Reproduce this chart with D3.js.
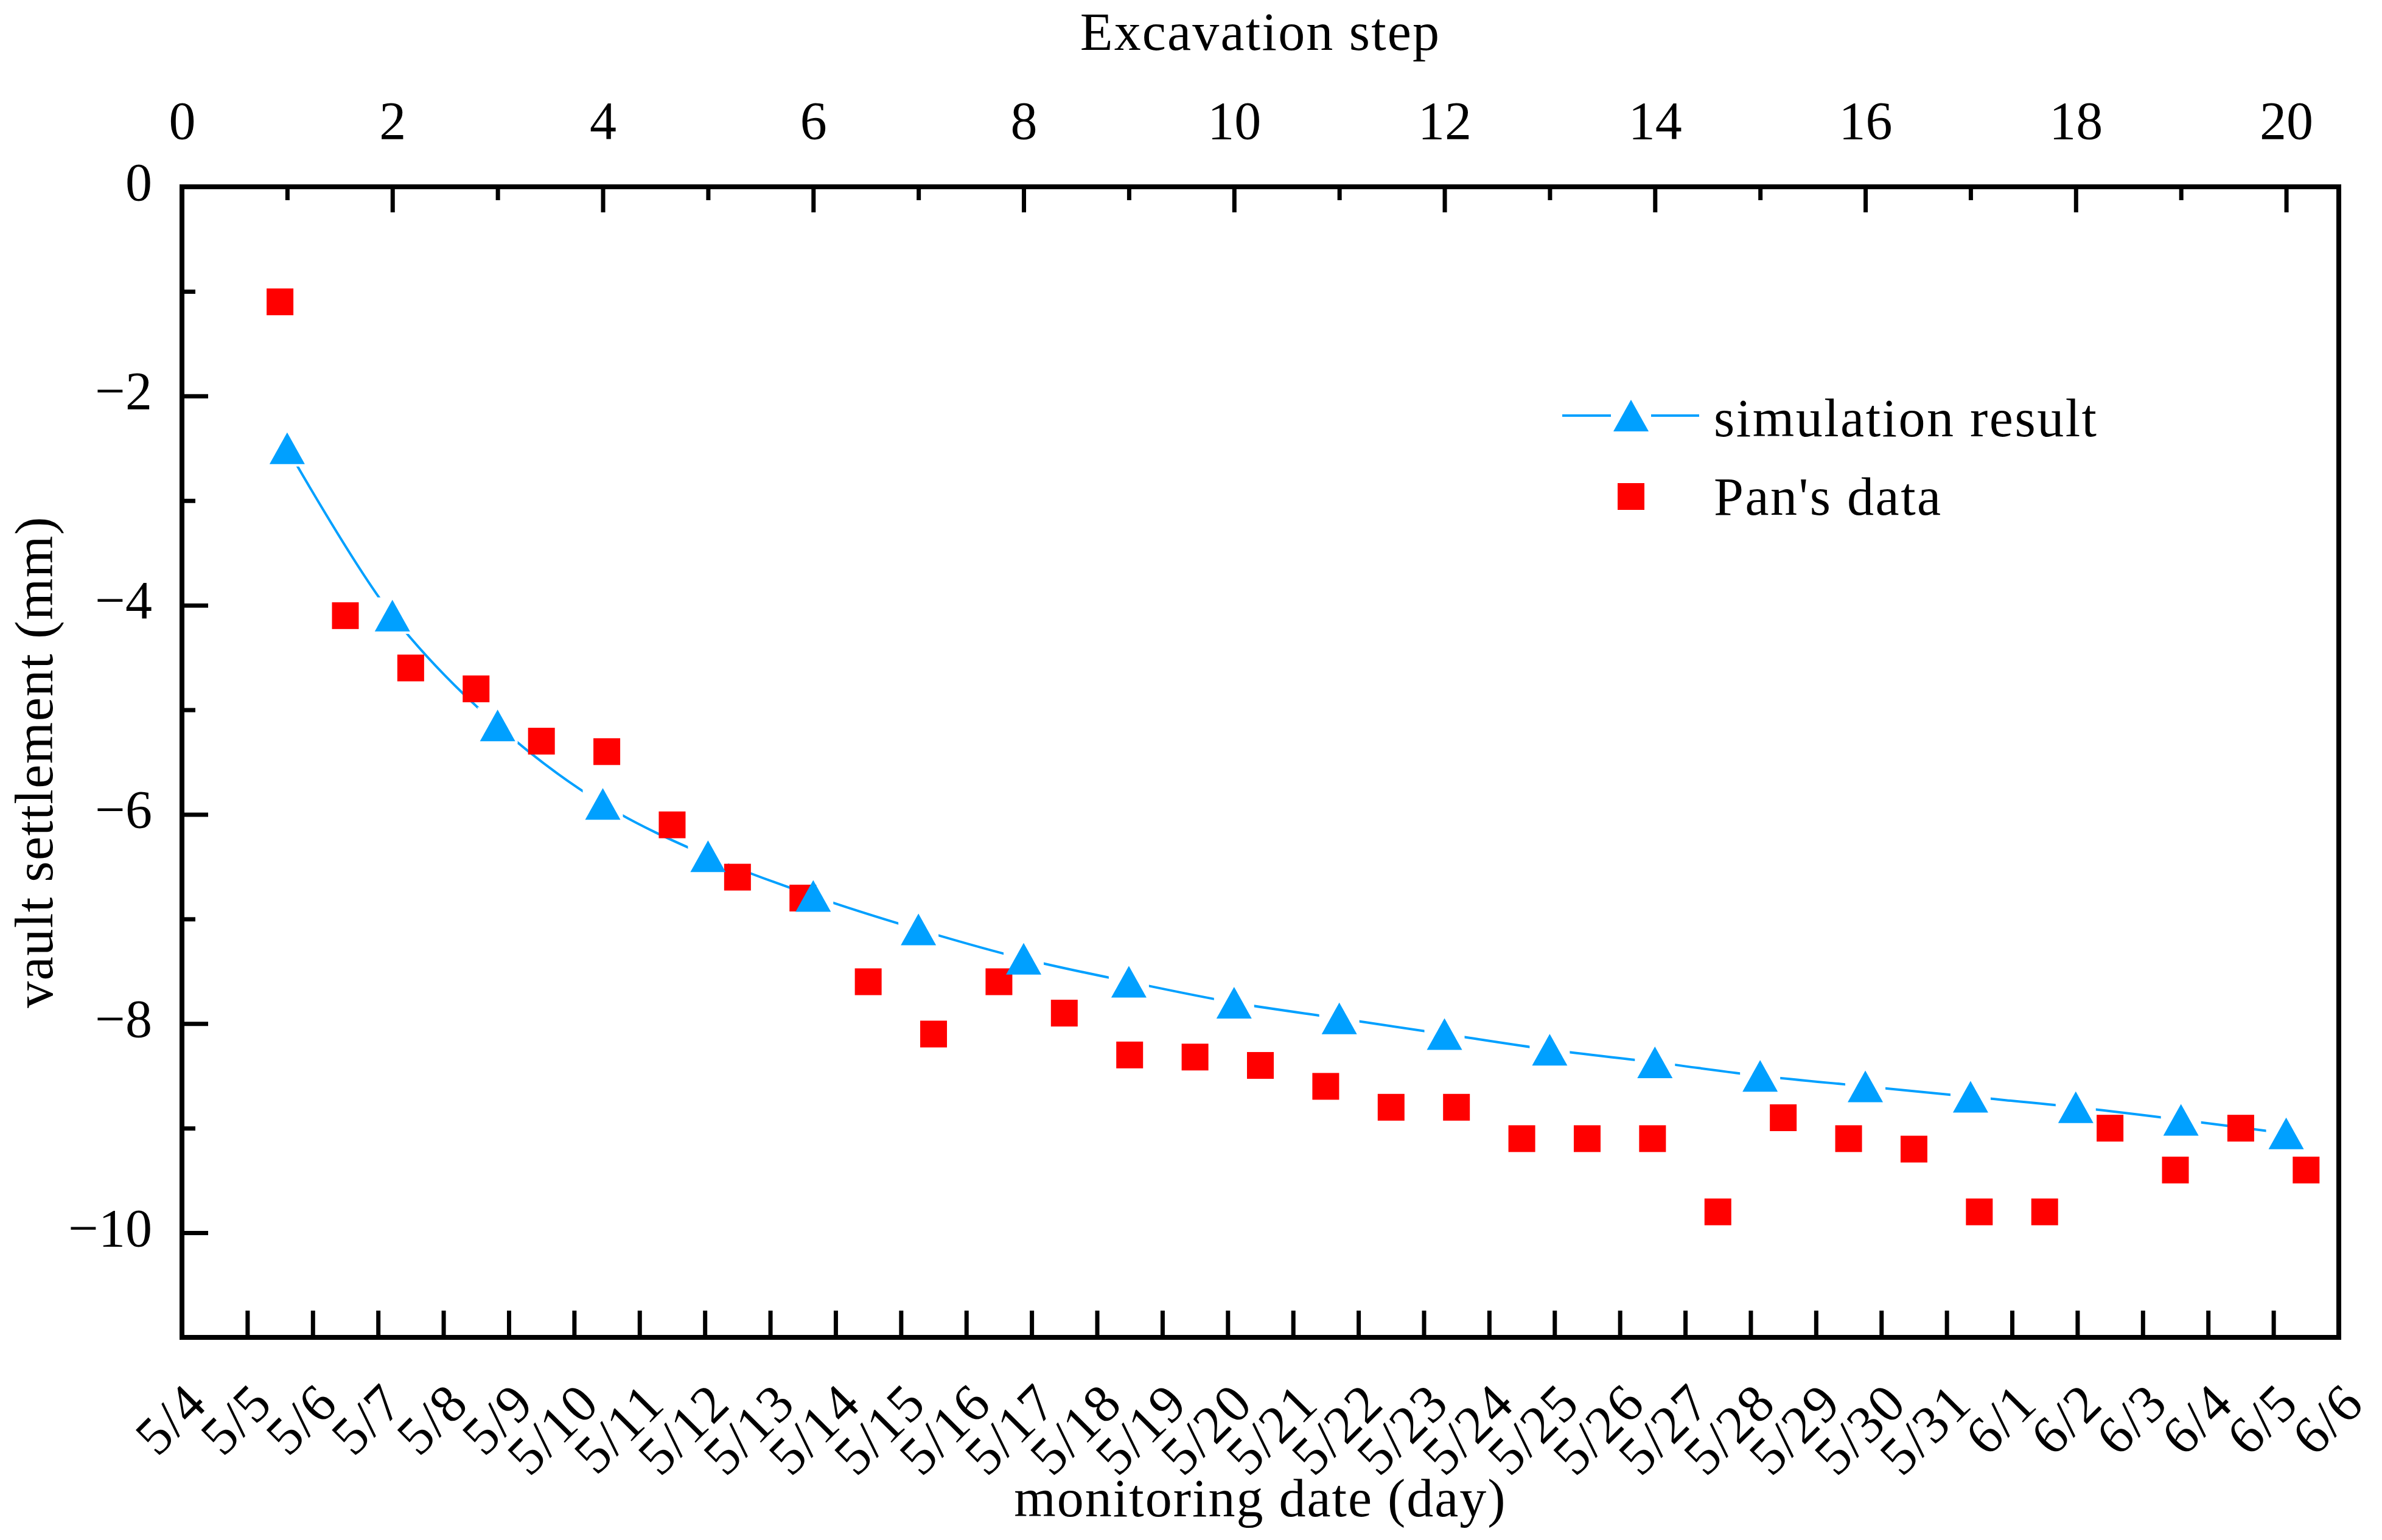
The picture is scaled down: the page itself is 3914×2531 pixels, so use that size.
<!DOCTYPE html>
<html>
<head>
<meta charset="utf-8">
<script src="https://cdnjs.cloudflare.com/ajax/libs/d3/7.8.5/d3.min.js"></script>
<style>
  html, body { margin: 0; padding: 0; background: #fff; }
  svg { display: block; }
</style>
</head>
<body>
<div id="chart"></div>
<script>
'use strict';

// monitoring dates shown on the bottom axis
var dateLabels = ['5/4', '5/5', '5/6', '5/7', '5/8', '5/9', '5/10', '5/11', '5/12', '5/13',
  '5/14', '5/15', '5/16', '5/17', '5/18', '5/19', '5/20', '5/21', '5/22', '5/23',
  '5/24', '5/25', '5/26', '5/27', '5/28', '5/29', '5/30', '5/31', '6/1', '6/2',
  '6/3', '6/4', '6/5', '6/6'];

// Pan's measured data, one point per day from 5/5 to 6/5
var panDates = ['5/5', '5/6', '5/7', '5/8', '5/9', '5/10', '5/11', '5/12', '5/13', '5/14',
  '5/15', '5/16', '5/17', '5/18', '5/19', '5/20', '5/21', '5/22', '5/23', '5/24',
  '5/25', '5/26', '5/27', '5/28', '5/29', '5/30', '5/31', '6/1', '6/2', '6/3',
  '6/4', '6/5'];
var panValues = [-1.1, -4.1, -4.6, -4.8, -5.3, -5.4, -6.1, -6.6, -6.8, -7.6,
  -8.1, -7.6, -7.9, -8.3, -8.32, -8.4, -8.6, -8.8, -8.8, -9.1,
  -9.1, -9.1, -9.8, -8.9, -9.1, -9.2, -9.8, -9.8, -9.0, -9.4,
  -9.0, -9.4];

// simulation result per excavation step
var simSteps = [1, 2, 3, 4, 5, 6, 7, 8, 9, 10, 11, 12, 13, 14, 15, 16, 17, 18, 19, 20];
var simValues = [-2.5, -4.1, -5.15, -5.9, -6.4, -6.78, -7.1, -7.38, -7.6, -7.8,
  -7.95, -8.1, -8.25, -8.37, -8.5, -8.6, -8.7, -8.8, -8.92, -9.05];

var stepTicks = [0, 2, 4, 6, 8, 10, 12, 14, 16, 18, 20];
var stepMinorTicks = [1, 3, 5, 7, 9, 11, 13, 15, 17, 19];
var yTicks = [0, -2, -4, -6, -8, -10];
var yMinorTicks = [-1, -3, -5, -7, -9];

var width = 3914;
var height = 2531;
var plotLeft = 299, plotRight = 3843, plotTop = 307, plotBottom = 2198;
var font = '"Liberation Serif", "Times New Roman", serif';
var fontSize = 88;
var blue = '#00A0FF';
var red = '#FF0000';

var svg = d3.select('#chart').append('svg')
  .attr('width', width)
  .attr('height', height)
  .attr('font-family', font);

var xStep = d3.scaleLinear().domain([0, 20.5]).range([plotLeft, plotRight]);
var xDay = d3.scaleLinear().domain([0, 33]).range([plotLeft, plotRight]);
var y = d3.scaleLinear().domain([-11, 0]).range([plotBottom, plotTop]);

var dayIndex = function (label) {
  return dateLabels.indexOf(label) + 0.5;
};

// axes
var styleAxis = function (g, lineWidth) {
  g.select('.domain').remove();
  g.selectAll('.tick line').attr('stroke', '#000').attr('stroke-width', lineWidth);
  g.selectAll('.tick text')
    .attr('font-family', font)
    .attr('font-size', fontSize)
    .attr('fill', '#000');
};

svg.append('g')
  .attr('transform', 'translate(0,' + plotTop + ')')
  .call(d3.axisTop(xStep).tickValues(stepTicks).tickSize(-42).tickPadding(79).tickFormat(d3.format('d')))
  .call(styleAxis, 7);

svg.append('g')
  .attr('transform', 'translate(0,' + plotTop + ')')
  .call(d3.axisTop(xStep).tickValues(stepMinorTicks).tickSize(-22).tickFormat(''))
  .call(styleAxis, 7);

svg.append('g')
  .attr('transform', 'translate(' + plotLeft + ',0)')
  .call(d3.axisLeft(y).tickValues(yTicks).tickSize(-43).tickPadding(49)
    .tickFormat(function (d) { return d === 0 ? '0' : '\u2212' + Math.abs(d); }))
  .call(styleAxis, 7)
  .call(function (g) { g.selectAll('.tick text').attr('dy', '0.24em'); });

svg.append('g')
  .attr('transform', 'translate(' + plotLeft + ',0)')
  .call(d3.axisLeft(y).tickValues(yMinorTicks).tickSize(-22).tickFormat(''))
  .call(styleAxis, 7);

svg.append('g')
  .attr('transform', 'translate(0,' + plotBottom + ')')
  .call(d3.axisBottom(xDay).tickValues(d3.range(1, 33)).tickSize(-44).tickFormat(''))
  .call(styleAxis, 7);

// rotated date labels
svg.append('g').selectAll('text')
  .data(dateLabels).enter()
  .append('text')
  .attr('transform', function (d) {
    return 'translate(' + (xDay(dayIndex(d)) - 8) + ',2310) rotate(-45)';
  })
  .attr('text-anchor', 'end')
  .attr('font-size', fontSize)
  .attr('letter-spacing', 3)
  .text(function (d) { return d; });

// frame
svg.append('rect')
  .attr('x', plotLeft)
  .attr('y', plotTop)
  .attr('width', plotRight - plotLeft)
  .attr('height', plotBottom - plotTop)
  .attr('fill', 'none')
  .attr('stroke', '#000')
  .attr('stroke-width', 8);

// axis titles
svg.append('text')
  .attr('x', (plotLeft + plotRight) / 2)
  .attr('y', 82)
  .attr('text-anchor', 'middle')
  .attr('font-size', fontSize)
  .attr('letter-spacing', 2.2)
  .text('Excavation step');

svg.append('text')
  .attr('x', (plotLeft + plotRight) / 2)
  .attr('y', 2492)
  .attr('text-anchor', 'middle')
  .attr('font-size', fontSize)
  .attr('letter-spacing', 2)
  .text('monitoring date (day)');

svg.append('text')
  .attr('transform', 'translate(86,' + (plotTop + plotBottom) / 2 + ') rotate(-90)')
  .attr('text-anchor', 'middle')
  .attr('font-size', fontSize)
  .attr('letter-spacing', 1.5)
  .text('vault settlement (mm)');

// simulation curve, with gaps around the markers
var simPoints = simSteps.map(function (s, i) {
  return { x: xStep(s), y: y(simValues[i]) };
});

var mask = svg.append('defs').append('mask').attr('id', 'line-gap');
mask.append('rect')
  .attr('x', 0).attr('y', 0)
  .attr('width', width).attr('height', height)
  .attr('fill', '#fff');
mask.selectAll('rect.gap')
  .data(simPoints).enter()
  .append('rect')
  .attr('class', 'gap')
  .attr('x', function (p) { return p.x - 33; })
  .attr('y', function (p) { return p.y - 30; })
  .attr('width', 66)
  .attr('height', 60)
  .attr('fill', '#000');

svg.append('path')
  .datum(simPoints)
  .attr('d', d3.line()
    .x(function (p) { return p.x; })
    .y(function (p) { return p.y; })
    .curve(d3.curveCatmullRom))
  .attr('fill', 'none')
  .attr('stroke', blue)
  .attr('stroke-width', 4)
  .attr('mask', 'url(#line-gap)');

// Pan's data squares
svg.append('g').selectAll('rect')
  .data(panDates).enter()
  .append('rect')
  .attr('x', function (d) { return xDay(dayIndex(d)) - 22; })
  .attr('y', function (d, i) { return y(panValues[i]) - 22; })
  .attr('width', 44)
  .attr('height', 44)
  .attr('fill', red);

// triangles
var triangle = function (cx, cy) {
  return 'M' + (cx - 29) + ',' + (cy + 26) + 'L' + cx + ',' + (cy - 26) + 'L' + (cx + 29) + ',' + (cy + 26) + 'Z';
};

svg.append('g').selectAll('path')
  .data(simPoints).enter()
  .append('path')
  .attr('d', function (p) { return triangle(p.x, p.y); })
  .attr('fill', blue);

// legend
var legend = svg.append('g');
legend.append('line')
  .attr('x1', 2567).attr('x2', 2792)
  .attr('y1', 683).attr('y2', 683)
  .attr('stroke', blue)
  .attr('stroke-width', 4);
legend.append('rect')
  .attr('x', 2680 - 33).attr('y', 683 - 30)
  .attr('width', 66).attr('height', 60)
  .attr('fill', '#fff');
legend.append('path')
  .attr('d', triangle(2680, 683))
  .attr('fill', blue);
legend.append('text')
  .attr('x', 2816).attr('y', 717)
  .attr('font-size', fontSize)
  .attr('letter-spacing', 2.5)
  .text('simulation result');
legend.append('rect')
  .attr('x', 2680 - 22).attr('y', 816 - 22)
  .attr('width', 44).attr('height', 44)
  .attr('fill', red);
legend.append('text')
  .attr('x', 2816).attr('y', 846)
  .attr('font-size', fontSize)
  .attr('letter-spacing', 2.5)
  .text('Pan\'s data');
</script>
</body>
</html>
